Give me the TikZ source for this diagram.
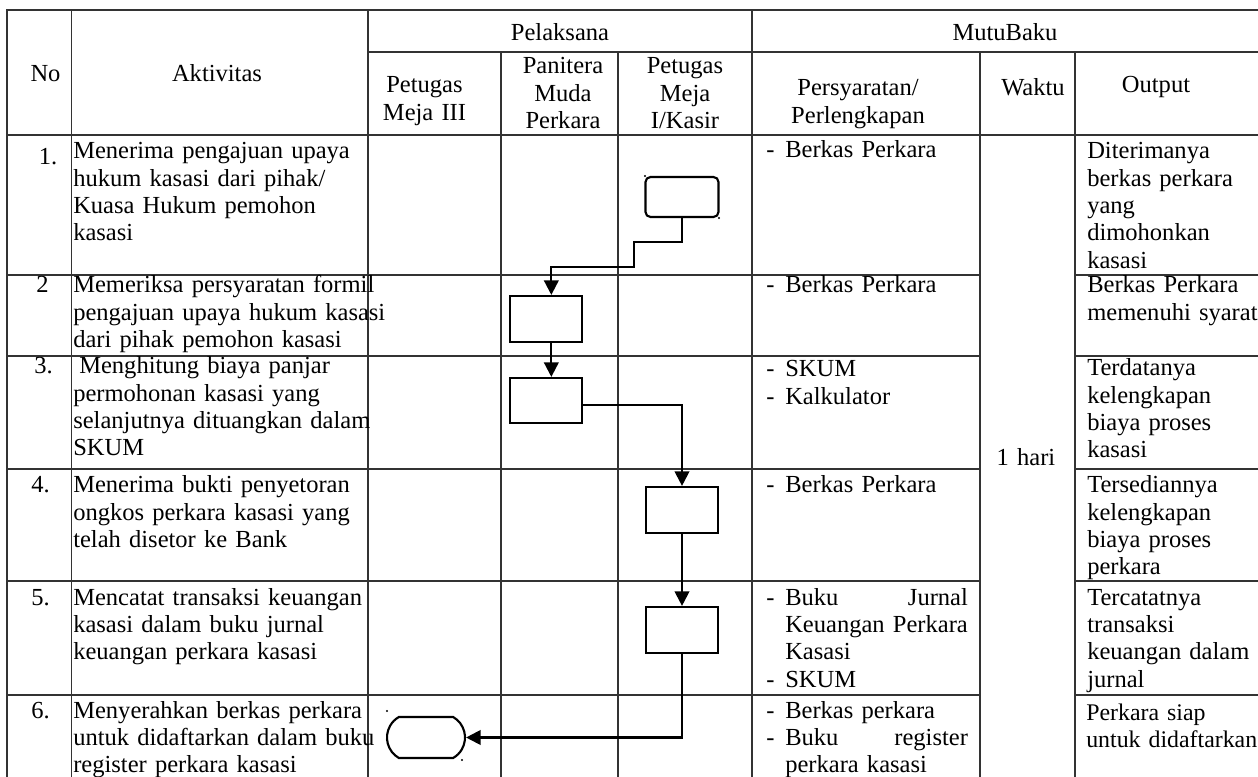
\documentclass[tikz,border=0pt]{standalone}
\usepackage{fontspec}
\setmainfont{Liberation Serif}
\usetikzlibrary{arrows.meta,shapes.misc}
\begin{document}
\begin{tikzpicture}[x=0.75pt,y=-0.75pt,
  tl/.style={line width=1.2pt,draw=black!80,line cap=rect},
  cn/.style={line width=1.6pt,-{Triangle[width=11pt,length=11pt]}},
  bx/.style={draw,line width=1.6pt,minimum width=54pt,minimum height=34.5pt,inner sep=0pt},
  tx/.style={inner sep=0pt,anchor=base west,align=left,text width=#1},
  tx/.default=300pt,
  cx/.style={inner sep=0pt,anchor=base,align=center,text width=#1},
  cx/.default=100pt,
  every node/.append style={font=\fontsize{18.4pt}{20.5pt}\selectfont}
]
\useasboundingbox (0,0) rectangle (1258,777);
% ---- table lines
\draw[tl] (7,10) -- (1258,10);
\draw[tl] (368,52) -- (1258,52);
\draw[tl] (7,135) -- (1258,135);
\foreach \y in {275,356,469,581,695}{
  \draw[tl] (7,\y) -- (980,\y);
  \draw[tl] (1075,\y) -- (1258,\y);
}
\foreach \x in {7,71.5,368,752} \draw[tl] (\x,10) -- (\x,777);
\foreach \x in {501,618,980,1075} \draw[tl] (\x,52) -- (\x,777);
% ---- header
\node[cx=40pt] (hNo) at (45.5,82) {No};
\node[cx=150pt] (hAkt) at (217,82) {Aktivitas};
\node[cx=200pt] (hPel) at (560,41) {Pelaksana};
\node[cx=200pt] (hMB) at (1005,41) {MutuBaku};
\node[cx=90pt] (hM3) at (424.5,93) {Petugas\\Meja III};
\node[cx=85pt] (hPan) at (563,74) {Panitera\\Muda\\Perkara};
\node[cx=95pt] (hM1) at (685,74) {Petugas\\Meja\\I/Kasir};
\node[cx=160pt] (hPers) at (858,96) {Persyaratan/\\Perlengkapan};
\node[cx=70pt] (hW) at (1033,96) {Waktu};
\node[cx=100pt] (hOut) at (1156,93) {Output};
% ---- row numbers
\node[cx=20pt] (n1) at (48,165) {1.};
\node[tx=20pt] (n2) at (36,293) {2};
\node[tx=20pt] (n3) at (34,374) {3.};
\node[tx=20pt] (n4) at (31,493) {4.};
\node[tx=20pt] (n5) at (31,605) {5.};
\node[tx=20pt] (n6) at (31,718) {6.};
% ---- aktivitas
\node[tx] (a1) at (73,159) {Menerima pengajuan upaya\\hukum kasasi dari pihak/\\Kuasa Hukum pemohon\\kasasi};
\node[tx] (a2) at (73,293) {Memeriksa persyaratan formil\\pengajuan upaya hukum kasasi\\dari pihak pemohon kasasi};
\node[tx] (a3) at (73,374) {\hspace*{4.5pt}Menghitung biaya panjar\\permohonan kasasi yang\\selanjutnya dituangkan dalam\\SKUM};
\node[tx] (a4) at (73,493) {Menerima bukti penyetoran\\ongkos perkara kasasi yang\\telah disetor ke Bank};
\node[tx] (a5) at (73,605) {Mencatat transaksi keuangan\\kasasi dalam buku jurnal\\keuangan perkara kasasi};
\node[tx] (a6) at (73,718) {Menyerahkan berkas perkara\\untuk didaftarkan dalam buku\\register perkara kasasi};
% ---- persyaratan
\node[tx=10pt] (p1d) at (766,158) {-};
\node[tx=137pt] (p1) at (785,158) {Berkas Perkara};
\node[tx=10pt] (p2d) at (766,293) {-};
\node[tx=137pt] (p2) at (785,293) {Berkas Perkara};
\node[tx=10pt] (p3d) at (766,377) {-\\-};
\node[tx=137pt] (p3) at (785,377) {SKUM\\Kalkulator};
\node[tx=10pt] (p4d) at (766,493) {-};
\node[tx=137pt] (p4) at (785,493) {Berkas Perkara};
\node[tx=10pt] (p5d) at (766,605) {-};
\node[tx=10pt] (p5e) at (766,687) {-};
\node[tx=137pt] (p5) at (785,605) {Buku\hfill Jurnal\\Keuangan Perkara\\Kasasi\\SKUM};
\node[tx=10pt] (p6d) at (766,718) {-\\-};
\node[tx=137pt] (p6) at (785,718) {Berkas perkara\\Buku\hfill register\\perkara kasasi};
% ---- waktu
\node[cx=60pt] (wk) at (1026,465) {1 hari};
% ---- output
\node[tx=150pt] (o1) at (1087,159) {Diterimanya\\berkas perkara\\yang\\dimohonkan\\kasasi};
\node[tx=150pt] (o2) at (1087,293) {Berkas Perkara\\memenuhi syarat};
\node[tx=150pt] (o3) at (1087,376) {Terdatanya\\kelengkapan\\biaya proses\\kasasi};
\node[tx=150pt] (o4) at (1087,493) {Tersediannya\\kelengkapan\\biaya proses\\perkara};
\node[tx=150pt] (o5) at (1087,605) {Tercatatnya\\transaksi\\keuangan dalam\\jurnal};
\node[tx=150pt,font=\fontsize{17.9pt}{20.5pt}\selectfont] (o6) at (1086,720) {Perkara siap\\untuk didaftarkan};
% ---- flow shapes
\node[bx,rounded corners=3.75pt,minimum width=54.75pt,minimum height=30pt] (t1) at (682,197) {};
\node[bx] (b2) at (546,319) {};
\node[bx,minimum height=33.75pt] (b3) at (546,400.5) {};
\node[bx] (b4) at (682,510) {};
\node[bx] (b5) at (682,630) {};
\node[draw,line width=1.6pt,rounded rectangle,rounded rectangle arc length=120,
      minimum width=58.5pt,minimum height=30.75pt,inner sep=0pt] (t2) at (426,737.5) {};
% ---- connectors
\coordinate (k1) at (634,242);
\coordinate (k2) at (634,267);
\draw[cn] (t1.south) |- (k1) -- (k2) -| ([xshift=4pt]b2.north);
\draw[cn] ([xshift=4pt]b2.south) -- ([xshift=4pt]b3.north);
\draw[cn] ([yshift=-3.4pt]b3.east) -| (b4.north);
\draw[cn] (b4.south) -- (b5.north);
\draw[cn] (b5.south) |- (t2.east);
% ---- tiny corner dots
\fill (645,176) circle (0.8pt);
\fill (719,218) circle (0.8pt);
\fill (387,711) circle (0.8pt);
\fill (462,760) circle (0.8pt);
\end{tikzpicture}
\end{document}
